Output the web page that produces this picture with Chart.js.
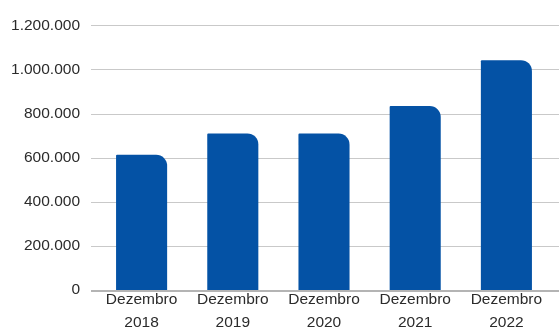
<!DOCTYPE html>
<html lang="pt">
<head>
    <meta charset="UTF-8">
    <title>Dezembro 2018-2022</title>
    <script src="https://cdn.jsdelivr.net/npm/chart.js@4"></script>
    <style>
        html, body { margin: 0; padding: 0; background: #fff; }
        #wrap { width: 559px; height: 330px; position: relative; }
    </style>
</head>
<body>
    <div id="wrap"><canvas id="chart"></canvas></div>

    <script>
        const months = ["Dezembro", "Dezembro", "Dezembro", "Dezembro", "Dezembro"];
        const years = ["2018", "2019", "2020", "2021", "2022"];
        const totals = [613000, 710000, 709000, 834000, 1042000];
        const yTicks = [0, 200000, 400000, 600000, 800000, 1000000, 1200000];

        const labelFont = "'Liberation Sans', Arial, sans-serif";

        function fmt(v) {
            return v.toLocaleString("de-DE");
        }

        // horizontal grid lines that run past the plot area, like the original
        const gridLines = {
            id: "gridLines",
            beforeDatasetsDraw(chart) {
                const ctx = chart.ctx;
                const y = chart.scales.y;
                ctx.save();
                ctx.strokeStyle = "#c9c9c9";
                ctx.lineWidth = 1;
                yTicks.forEach(t => {
                    if (t === 0) return;
                    const py = Math.round(y.getPixelForValue(t)) + 0.5;
                    ctx.beginPath();
                    ctx.moveTo(chart.chartArea.left - 5, py);
                    ctx.lineTo(chart.width, py);
                    ctx.stroke();
                });
                ctx.restore();
            },
            afterDatasetsDraw(chart) {
                const ctx = chart.ctx;
                const py = Math.round(chart.scales.y.getPixelForValue(0)) + 1;
                ctx.save();
                ctx.strokeStyle = "#b4b4b4";
                ctx.lineWidth = 2;
                ctx.beginPath();
                ctx.moveTo(chart.chartArea.left - 5, py);
                ctx.lineTo(chart.width, py);
                ctx.stroke();
                ctx.restore();
            }
        };

        new Chart(document.getElementById("chart"), {
            type: "bar",
            data: {
                labels: months.map((m, i) => [m, years[i]]),
                datasets: [{
                    data: totals,
                    backgroundColor: "#0452a5",
                    borderRadius: { topLeft: 1, topRight: 11, bottomLeft: 0, bottomRight: 0 },
                    borderSkipped: "bottom",
                    categoryPercentage: 1,
                    barPercentage: 0.56
                }]
            },
            options: {
                responsive: true,
                maintainAspectRatio: false,
                animation: false,
                layout: { padding: { top: 20, right: 7, left: 0, bottom: 0 } },
                plugins: {
                    legend: { display: false },
                    tooltip: { enabled: false }
                },
                scales: {
                    x: {
                        grid: { display: false, drawTicks: false },
                        border: { display: false },
                        ticks: {
                            color: "#2b2b2b",
                            padding: -2,
                            font: { family: labelFont, size: 15.5, lineHeight: 1.48 }
                        },
                        afterFit(s) { s.height = 40; }
                    },
                    y: {
                        min: 0,
                        max: 1200000,
                        afterBuildTicks(s) { s.ticks = yTicks.map(v => ({ value: v })); },
                        grid: { display: false, drawTicks: false },
                        border: { display: false },
                        ticks: {
                            color: "#2b2b2b",
                            padding: 16,
                            font: { family: labelFont, size: 15.5 },
                            callback: v => fmt(v)
                        },
                        afterFit(s) { s.width = 96; }
                    }
                }
            },
            plugins: [gridLines]
        });
    </script>
</body>
</html>
